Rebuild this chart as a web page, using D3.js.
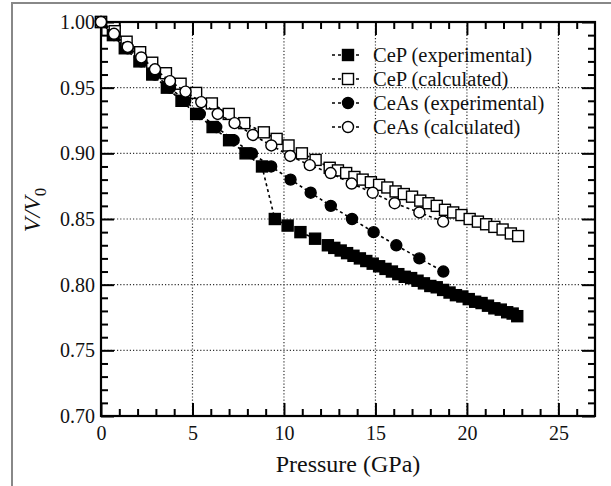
<!DOCTYPE html>
<meta charset="utf-8">
<script src="https://cdnjs.cloudflare.com/ajax/libs/d3/7.8.5/d3.min.js"></script>
<style>
  body { margin: 0; background: #fff; }
  text { font-family: "Liberation Serif", "Times New Roman", serif; fill: #111; }
</style>
<div id="chart"></div>
<script>
// CeP experimental
var cepExpP = [0, 0.65, 1.3, 2.1, 2.8, 3.6, 4.4, 5.2, 6.1, 7.0, 7.9, 8.8, 9.5, 10.2, 10.9, 11.7,
  12.4, 12.75, 13.1, 13.45, 13.8, 14.15, 14.5, 14.85, 15.2, 15.55, 15.9, 16.25, 16.6, 16.95, 17.3,
  17.65, 18.0, 18.35, 18.7, 19.05, 19.4, 19.75, 20.1, 20.45, 20.8, 21.15, 21.5, 21.85, 22.2, 22.5, 22.75];
var cepExpV = [1.00, 0.99, 0.98, 0.97, 0.96, 0.95, 0.94, 0.93, 0.92, 0.91, 0.90, 0.89, 0.85, 0.845, 0.84, 0.835,
  0.830, 0.828, 0.826, 0.824, 0.822, 0.820, 0.818, 0.816, 0.814, 0.812, 0.810, 0.808, 0.806, 0.805, 0.803,
  0.801, 0.799, 0.798, 0.796, 0.794, 0.792, 0.791, 0.789, 0.787, 0.786, 0.784, 0.782, 0.781, 0.779, 0.778, 0.776];

// CeP calculated
var cepCalP = [0, 0.75, 1.4, 2.14, 2.8, 3.55, 4.35, 5.2, 6.06, 6.98, 7.83, 8.9, 9.6, 10.25, 10.98, 11.73,
  12.5, 12.95, 13.4, 13.85, 14.3, 14.75, 15.2, 15.65, 16.1, 16.55, 17.0, 17.45, 17.9, 18.35, 18.8,
  19.25, 19.7, 20.15, 20.6, 21.05, 21.5, 21.95, 22.4, 22.8];
var cepCalV = [1.0, 0.993, 0.985, 0.977, 0.969, 0.961, 0.953, 0.946, 0.938, 0.930, 0.923, 0.916, 0.911, 0.906, 0.900, 0.895,
  0.889, 0.887, 0.885, 0.882, 0.880, 0.878, 0.876, 0.874, 0.871, 0.869, 0.867, 0.864, 0.862, 0.860, 0.857,
  0.855, 0.853, 0.850, 0.848, 0.846, 0.844, 0.842, 0.839, 0.837];

// CeAs experimental
var ceasExpP = [0, 0.71, 1.46, 2.2, 2.95, 3.77, 4.6, 5.4, 6.3, 7.25, 8.25, 9.3, 10.36, 11.46, 12.56, 13.72, 14.9, 16.14, 17.4, 18.71];
var ceasExpV = [1.0, 0.99, 0.98, 0.97, 0.96, 0.95, 0.94, 0.93, 0.92, 0.91, 0.90, 0.89, 0.88, 0.87, 0.86, 0.85, 0.84, 0.83, 0.82, 0.81];

// CeAs calculated
var ceasCalP = [0, 0.71, 1.46, 2.2, 2.95, 3.77, 4.62, 5.48, 6.38, 7.3, 8.3, 9.31, 10.34, 11.41, 12.55, 13.7, 14.85, 16.05, 17.4, 18.7];
var ceasCalV = [1.0, 0.991, 0.981, 0.973, 0.964, 0.955, 0.947, 0.939, 0.930, 0.923, 0.914, 0.906, 0.898, 0.891, 0.885, 0.877, 0.870, 0.862, 0.855, 0.848];

var xTicks = [0, 5, 10, 15, 20, 25];
var yTicks = [0.70, 0.75, 0.80, 0.85, 0.90, 0.95, 1.00];
var legendLabels = ["CeP (experimental)", "CeP (calculated)", "CeAs (experimental)", "CeAs (calculated)"];

var W = 611, H = 486;
var pL = 101, pR = 595, pT = 22, pB = 416;

var svg = d3.select("#chart").append("svg")
  .attr("width", W)
  .attr("height", H);

// gray outer border (top and left edges of the scan)
svg.append("path")
  .attr("d", "M12,486 L12,3 L611,3")
  .attr("fill", "none")
  .attr("stroke", "#888")
  .attr("stroke-width", 2);

var x = d3.scaleLinear().domain([0, 27]).range([pL, pR]);
var y = d3.scaleLinear().domain([0.70, 1.00]).range([pB, pT]);

// grid
var grid = svg.append("g").attr("stroke", "#333").attr("stroke-width", 1.2).attr("stroke-dasharray", "1.2,2");
grid.selectAll(".gx").data(xTicks.filter(function(d) { return d > 0; }))
  .enter().append("line")
  .attr("x1", function(d) { return x(d); }).attr("x2", function(d) { return x(d); })
  .attr("y1", pT).attr("y2", pB);
grid.selectAll(".gy").data(yTicks.filter(function(d) { return d > 0.7 && d < 1; }))
  .enter().append("line")
  .attr("y1", function(d) { return y(d); }).attr("y2", function(d) { return y(d); })
  .attr("x1", pL).attr("x2", pR);

// minor tick values
var xMinor = d3.range(1, 27, 1).filter(function(d) { return d % 5 != 0; });
var yMinor = d3.range(71, 100, 1).filter(function(d) { return d % 5 != 0; }).map(function(d) { return d / 100; });

function styleAxis(g) {
  g.select(".domain").remove();
  g.selectAll(".tick line").attr("stroke", "#000").attr("stroke-width", 2);
  g.selectAll(".tick text").style("font-size", "20px").attr("fill", "#111");
}

// bottom
svg.append("g").attr("transform", "translate(0," + pB + ")")
  .call(d3.axisBottom(x).tickValues(xTicks).tickSize(-13).tickPadding(10).tickFormat(d3.format("d")))
  .call(styleAxis);
svg.append("g").attr("transform", "translate(0," + pB + ")")
  .call(d3.axisBottom(x).tickValues(xMinor).tickSize(-7).tickFormat(""))
  .call(styleAxis);
// top
svg.append("g").attr("transform", "translate(0," + pT + ")")
  .call(d3.axisTop(x).tickValues(xTicks).tickSize(-13).tickFormat(""))
  .call(styleAxis);
svg.append("g").attr("transform", "translate(0," + pT + ")")
  .call(d3.axisTop(x).tickValues(xMinor).tickSize(-7).tickFormat(""))
  .call(styleAxis);
// left
svg.append("g").attr("transform", "translate(" + pL + ",0)")
  .call(d3.axisLeft(y).tickValues(yTicks).tickSize(-13).tickPadding(6).tickFormat(d3.format(".2f")))
  .call(styleAxis);
svg.append("g").attr("transform", "translate(" + pL + ",0)")
  .call(d3.axisLeft(y).tickValues(yMinor).tickSize(-7).tickFormat(""))
  .call(styleAxis);
// right
svg.append("g").attr("transform", "translate(" + pR + ",0)")
  .call(d3.axisRight(y).tickValues(yTicks).tickSize(-13).tickFormat(""))
  .call(styleAxis);
svg.append("g").attr("transform", "translate(" + pR + ",0)")
  .call(d3.axisRight(y).tickValues(yMinor).tickSize(-7).tickFormat(""))
  .call(styleAxis);

// frame
svg.append("rect")
  .attr("x", pL).attr("y", pT)
  .attr("width", pR - pL).attr("height", pB - pT)
  .attr("fill", "none").attr("stroke", "#000").attr("stroke-width", 2.2);

// series
var series = [
  { name: legendLabels[0], P: cepExpP, V: cepExpV, shape: "square", fill: "#000" },
  { name: legendLabels[1], P: cepCalP, V: cepCalV, shape: "square", fill: "#fff" },
  { name: legendLabels[2], P: ceasExpP, V: ceasExpV, shape: "circle", fill: "#000" },
  { name: legendLabels[3], P: ceasCalP, V: ceasCalV, shape: "circle", fill: "#fff" }
];

var line = d3.line()
  .x(function(d) { return x(d[0]); })
  .y(function(d) { return y(d[1]); });

function drawMarker(g, shape, fill) {
  if (shape == "square") {
    g.append("rect").attr("x", -5.5).attr("y", -5.5).attr("width", 11).attr("height", 11)
      .attr("fill", fill).attr("stroke", "#000").attr("stroke-width", 1.4);
  } else {
    g.append("circle").attr("r", 5.5)
      .attr("fill", fill).attr("stroke", "#000").attr("stroke-width", 1.4);
  }
}

series.forEach(function(s) {
  var pts = s.P.map(function(p, i) { return [p, s.V[i]]; });
  svg.append("path")
    .attr("d", line(pts))
    .attr("fill", "none")
    .attr("stroke", "#000")
    .attr("stroke-width", 1.6)
    .attr("stroke-dasharray", "3,3");
  pts.forEach(function(d) {
    var g = svg.append("g").attr("transform", "translate(" + x(d[0]) + "," + y(d[1]) + ")");
    drawMarker(g, s.shape, s.fill);
  });
});

// legend
var legend = svg.append("g");
series.forEach(function(s, i) {
  var ly = 55 + i * 24;
  legend.append("line")
    .attr("x1", 332).attr("x2", 361).attr("y1", ly).attr("y2", ly)
    .attr("stroke", "#000").attr("stroke-width", 1.6).attr("stroke-dasharray", "3,3");
  var g = legend.append("g").attr("transform", "translate(348," + ly + ")");
  drawMarker(g, s.shape, s.fill);
  legend.append("text")
    .attr("x", 373).attr("y", ly).attr("dy", "0.35em")
    .style("font-size", "20.5px")
    .text(s.name);
});

// axis titles
svg.append("text")
  .attr("x", (pL + pR) / 2).attr("y", 472)
  .attr("text-anchor", "middle")
  .style("font-size", "24px")
  .text("Pressure (GPa)");

var yt = svg.append("text")
  .attr("transform", "translate(40," + 210 + ") rotate(-90)")
  .attr("text-anchor", "middle")
  .style("font-size", "24px")
  .style("font-style", "italic");
yt.append("tspan").text("V/V");
yt.append("tspan").attr("dy", 6).style("font-size", "17px").style("font-style", "normal").text("0");
</script>
